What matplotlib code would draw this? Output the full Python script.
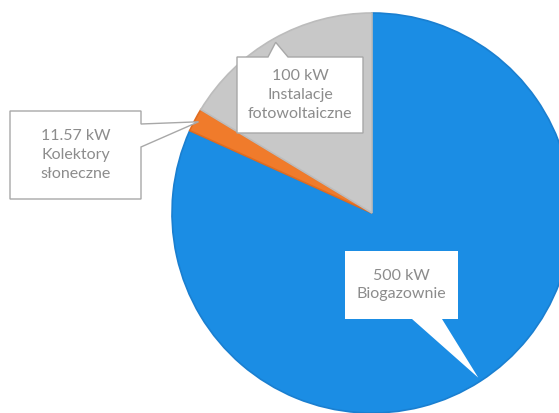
import numpy as np
import matplotlib.pyplot as plt
from matplotlib.patches import Polygon

W, H = 559, 414

moce = [500, 11.57, 100]
etykiety = ['500 kW', '11.57 kW', '100 kW']
nazwy = ['Biogazownie', 'Kolektory\nsłoneczne', 'Instalacje\nfotowoltaiczne']
kolory = ['#1b8de4', '#f07b2b', '#c8c8c8']
krawedzie = ['#1a7fd0', '#e06c20', '#bcbcbc']

# rozmieszczenie dymkow w pikselach (od gory): ramka, bok z wypustka, podstawa wypustki
ramki = [(345, 252, 458, 320), (10, 112, 141, 200), (237, 58, 363, 134)]
boki = ['bottom', 'right', 'top']
podstawy = [(412, 442), (125, 148), (268, 288)]
obrysy = ['none', '#a8a8a8', '#a8a8a8']


def dymek(ramka, bok, podstawa, tip):
    x0, y0, x1, y1 = ramka
    b0, b1 = podstawa
    if bok == 'top':
        pts = [(x0, y0), (b0, y0), tip, (b1, y0), (x1, y0), (x1, y1), (x0, y1)]
    elif bok == 'right':
        pts = [(x0, y0), (x1, y0), (x1, b0), tip, (x1, b1), (x1, y1), (x0, y1)]
    else:
        pts = [(x0, y0), (x1, y0), (x1, y1), (b1, y1), tip, (b0, y1), (x0, y1)]
    return [(x, H - y) for x, y in pts]


fig = plt.figure(figsize=(W / 100, H / 100), dpi=100)
ax = fig.add_axes([0, 0, 1, 1])

cx, cy, r = 372, H - 214, 200
wedges, _ = ax.pie(moce, colors=kolory, startangle=90, counterclock=False,
                   center=(cx, cy), radius=r,
                   wedgeprops=dict(linewidth=1.2))
for w, k in zip(wedges, krawedzie):
    w.set_edgecolor(k)
ax.set_xlim(0, W)
ax.set_ylim(0, H)
ax.set_aspect('equal')
ax.axis('off')

for w, ramka, bok, podst, ob, et, nz in zip(wedges, ramki, boki, podstawy, obrysy, etykiety, nazwy):
    mid = np.deg2rad((w.theta1 + w.theta2) / 2)
    tx = cx + 0.98 * r * np.cos(mid)
    ty = H - (cy + 0.98 * r * np.sin(mid))
    pts = dymek(ramka, bok, podst, (tx, ty))
    ax.add_patch(Polygon(pts, closed=True, facecolor='white', edgecolor=ob,
                         linewidth=1.0, zorder=5))
    x0, y0, x1, y1 = ramka
    ax.text((x0 + x1) / 2, H - (y0 + y1) / 2 + 1, et + '\n' + nz, ha='center', va='center',
            fontsize=11.5, color='#8c8c8c', family='Lato', linespacing=1.45, zorder=6)

fig.savefig('out.png', dpi=100)
